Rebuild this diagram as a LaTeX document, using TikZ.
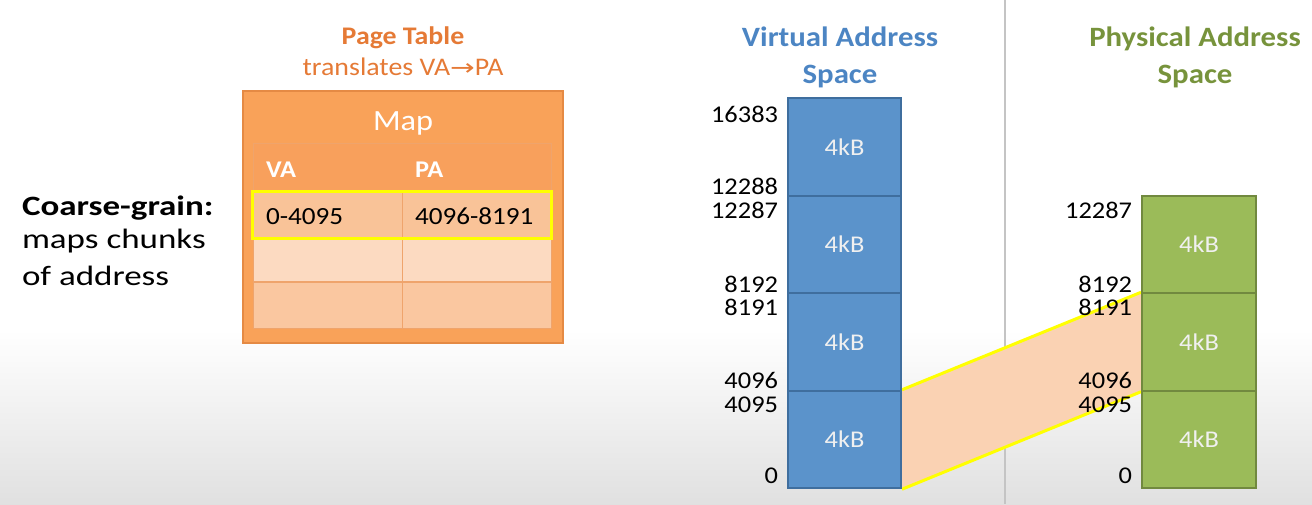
\documentclass[tikz,border=0pt]{standalone}
\usepackage{fontspec}
\setmainfont{Carlito}[FakeStretch=1.1]
\newfontfamily\widefont{Carlito}[FakeStretch=1.25]
\newfontfamily\dvs{DejaVu Sans}[FakeStretch=1.3]
\pgfdeclarelayer{bg}
\pgfdeclarelayer{mid}
\pgfsetlayers{bg,mid,main}
\definecolor{ttlorange}{HTML}{E57A36}
\definecolor{ptfill}{HTML}{F9A259}
\definecolor{ptedge}{HTML}{E58A44}
\definecolor{hdrfill}{HTML}{F8A05C}
\definecolor{rowA}{HTML}{F9C398}
\definecolor{rowB}{HTML}{FCDAC1}
\definecolor{rowC}{HTML}{FAC7A0}
\definecolor{celledge}{HTML}{EFA46C}
\definecolor{hiyellow}{HTML}{FFFF00}
\definecolor{vafill}{HTML}{5B93CB}
\definecolor{vaedge}{HTML}{3F6E9E}
\definecolor{vattl}{HTML}{4C85C3}
\definecolor{pafill}{HTML}{9BBB59}
\definecolor{paedge}{HTML}{71893F}
\definecolor{pattl}{HTML}{77933C}
\definecolor{peach}{HTML}{FAD2B3}
\definecolor{sepgray}{HTML}{C4C4C4}
\begin{document}
\begin{tikzpicture}[x=0.75pt,y=-0.75pt,
  txt/.style={inner sep=0,outer sep=0},
  num/.style={txt,anchor=base east,font=\fontsize{18}{21}\selectfont},
  ttl/.style={txt,anchor=base,font=\bfseries\fontsize{21}{25}\selectfont},
  blkbase/.style={line width=1.5pt,inner sep=0,text=white!94!black,font=\fontsize{18}{21}\selectfont,minimum height=73.1pt},
  vablk/.style={blkbase,draw=vaedge,fill=vafill,minimum width=84.75pt},
  pablk/.style={blkbase,draw=paedge,fill=pafill,minimum width=85.5pt},
  rowbox/.style={draw=celledge,line width=0.6pt,minimum width=223.5pt,inner sep=0},
  yl/.style={draw=hiyellow,line width=2.25pt},
  cell/.style={txt,anchor=base west,font=\fontsize{18.5}{21}\selectfont},
  hcell/.style={txt,anchor=base west,text=white,font=\bfseries\fontsize{18}{21}\selectfont},
  lefttxt/.style={txt,anchor=base west,font=\widefont\fontsize{21}{25}\selectfont}
]
\useasboundingbox (0,0) rectangle (1312,504);
\begin{pgfonlayer}{bg}
  \shade[top color=white,bottom color=black!12] (0,330) rectangle (1312,504);
  \coordinate (vtop) at (1005,0);
  \coordinate (vbot) at (1005,504);
  \draw[sepgray,line width=1.5pt] (vtop) -- (vbot);
\end{pgfonlayer}

% left text
\node[lefttxt,font=\widefont\bfseries\fontsize{21}{25}\selectfont] (lt1) at (22,215) {Coarse-grain:};
\node[lefttxt] (lt2) at (22,248) {maps chunks};
\node[lefttxt] (lt3) at (22,285) {of address};

% page table
\node[txt,anchor=base,text=ttlorange,font=\bfseries\fontsize{19}{22}\selectfont] (pttl) at (403,44) {Page Table};
\node[txt,anchor=base,text=ttlorange,font=\fontsize{19}{22}\selectfont] (psub) at (403,75) {translates VA{\dvs\fontsize{17}{20}\selectfont →}PA};
\node[draw=ptedge,fill=ptfill,line width=1.5pt,minimum width=240pt,minimum height=189pt,inner sep=0] (pt) at (403,216.5) {};
\node[txt,anchor=base,text=white,font=\fontsize{22}{26}\selectfont] (map) at (403,130) {Map};
\node[rowbox,fill=hdrfill,minimum height=36.75pt] (hdr) at (402,167.5) {};
\node[rowbox,fill=rowB,minimum height=33pt] (r2) at (402,260) {};
\node[rowbox,fill=rowC,minimum height=34.5pt] (r3) at (402,305) {};
\node[rowbox,fill=rowA,minimum height=34.5pt] (r1) at (402,215) {};
\draw[celledge,line width=0.6pt] (r1.north) -- (r3.south);
\draw[celledge,line width=0.6pt] (r2.north west) -- (r2.north east);
\draw[celledge,line width=0.6pt] (r3.north west) -- (r3.north east);
\draw[yl] (r1.north west) rectangle (r1.south east);
\node[hcell] (hva) at (266,177) {VA};
\node[hcell] (hpa) at (415,177) {PA};
\node[cell] (c1) at (266,224) {0-4095};
\node[cell] (c2) at (415,224) {4096-8191};

% virtual address space
\node[ttl,text=vattl] (vt1) at (840,46) {Virtual Address};
\node[ttl,text=vattl] (vt2) at (840,83) {Space};
\node[vablk] (va0) at (844.5,439.5) {4kB};
\node[vablk] (va1) at (844.5,342) {4kB};
\node[vablk] (va2) at (844.5,244.5) {4kB};
\node[vablk] (va3) at (844.5,147) {4kB};
\node[num] at (778,122) {16383};
\node[num] at (778,194) {12288};
\node[num] at (778,218) {12287};
\node[num] at (778,292) {8192};
\node[num] at (778,315) {8191};
\node[num] at (778,388) {4096};
\node[num] at (778,412) {4095};
\node[num] at (778,483) {0};

% physical address space
\node[ttl,text=pattl] (pt1) at (1195,46) {Physical Address};
\node[ttl,text=pattl] (pt2) at (1195,83) {Space};
\node[pablk] (pa0) at (1199,439.5) {4kB};
\node[pablk] (pa1) at (1199,342) {4kB};
\node[pablk] (pa2) at (1199,244.5) {4kB};
\node[num] at (1132,218) {12287};
\node[num] at (1132,292) {8192};
\node[num] at (1132,315) {8191};
\node[num] at (1132,388) {4096};
\node[num] at (1132,412) {4095};
\node[num] at (1132,483) {0};

% mapping
\begin{pgfonlayer}{mid}
  \fill[peach] (va0.north east) -- (pa1.north west) -- (pa1.south west) -- (va0.south east) -- cycle;
  \draw[yl] (va0.north east) -- (pa1.north west);
  \draw[yl] (va0.south east) -- (pa1.south west);
\end{pgfonlayer}
\end{tikzpicture}
\end{document}
